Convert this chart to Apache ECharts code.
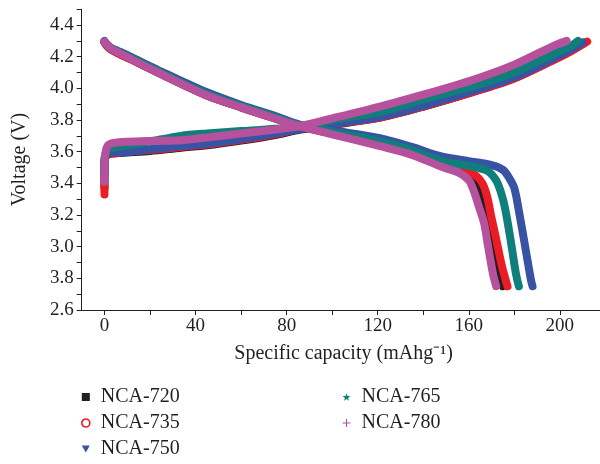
<!DOCTYPE html>
<html>
<head>
<meta charset="utf-8">
<script src="https://cdn.jsdelivr.net/npm/echarts@6/dist/echarts.min.js"></script>
<style>html,body{margin:0;padding:0;background:#fff}#c{width:600px;height:464px}</style>
</head>
<body>
<div id="c"></div>
<script>
// ---- data (specific capacity mAh/g, voltage V) ----
const sampleNames = ['NCA-720', 'NCA-735', 'NCA-750', 'NCA-765', 'NCA-780'];

const charge720 = [[0,3.37],[0,3.50],[0.5,3.57],[2,3.585],[5,3.59],[10,3.595],[20,3.605],[33.6,3.625],[45,3.64],[60,3.67],[75,3.705],[86,3.74],[100,3.77],[121,3.815],[140,3.885],[161,3.975],[180,4.065],[197.5,4.185],[205,4.24],[211,4.29]];
const charge735 = [[0,3.33],[0,3.50],[0.5,3.57],[2,3.585],[5,3.59],[10,3.60],[20,3.61],[33.6,3.63],[45,3.645],[60,3.675],[75,3.71],[86,3.745],[100,3.772],[121,3.815],[140,3.885],[161,3.972],[180,4.062],[197.5,4.18],[205,4.235],[212,4.295]];
const charge750 = [[0,3.50],[0,3.55],[0.5,3.575],[2,3.59],[5,3.595],[10,3.60],[20,3.615],[33.6,3.635],[45,3.65],[60,3.68],[75,3.715],[86,3.745],[100,3.775],[121,3.82],[140,3.89],[161,3.98],[180,4.07],[197.5,4.19],[205,4.245],[210,4.29]];
const charge765 = [[0,3.46],[0,3.54],[0.5,3.59],[2,3.62],[5,3.63],[10,3.64],[20,3.665],[33.6,3.70],[45,3.715],[60,3.73],[75,3.745],[86,3.76],[100,3.80],[121,3.85],[140,3.93],[161,4.01],[180,4.10],[197.5,4.22],[205,4.27],[208,4.30]];
const charge780 = [[0,3.41],[0,3.52],[0.5,3.60],[1.5,3.64],[4,3.655],[10,3.663],[20,3.668],[33.6,3.672],[45,3.69],[60,3.715],[75,3.74],[86,3.762],[100,3.81],[121,3.885],[140,3.96],[161,4.05],[180,4.15],[197.5,4.27],[203,4.30]];

const discharge720 = [[0,4.29],[1,4.27],[3,4.245],[7,4.215],[15,4.16],[25,4.09],[35,4.02],[45,3.955],[60,3.88],[75,3.81],[86,3.76],[100,3.715],[121,3.645],[135,3.59],[148,3.52],[156,3.48],[161,3.45],[164,3.40],[166,3.32],[168,3.18],[170,3.05],[172.5,2.88],[175,2.75]];
const discharge735 = [[0,4.29],[1,4.27],[3,4.245],[7,4.215],[15,4.16],[25,4.09],[35,4.02],[45,3.955],[60,3.88],[75,3.81],[86,3.76],[100,3.715],[121,3.645],[135,3.59],[148,3.52],[158,3.48],[163,3.45],[166,3.40],[168,3.32],[170,3.18],[172,3.05],[174.5,2.88],[177,2.75]];
const discharge750 = [[0,4.30],[1,4.28],[3,4.255],[7,4.23],[15,4.175],[25,4.105],[35,4.04],[45,3.975],[60,3.895],[75,3.825],[86,3.77],[100,3.735],[121,3.685],[135,3.63],[148,3.57],[160,3.54],[170,3.515],[175,3.485],[177.5,3.44],[180,3.37],[182.2,3.21],[185,2.98],[187.3,2.79],[188,2.75]];
const discharge765 = [[0,4.295],[1,4.275],[3,4.25],[7,4.225],[15,4.17],[25,4.10],[35,4.03],[45,3.965],[60,3.89],[75,3.82],[86,3.765],[100,3.725],[121,3.665],[135,3.61],[148,3.54],[160,3.51],[168,3.48],[171,3.44],[173,3.39],[175,3.30],[176.5,3.20],[178.5,3.03],[180.7,2.83],[182,2.75]];
const discharge780 = [[0,4.295],[1,4.275],[3,4.25],[7,4.22],[15,4.16],[25,4.09],[35,4.02],[45,3.955],[60,3.88],[75,3.81],[86,3.76],[100,3.71],[121,3.635],[135,3.58],[148,3.505],[156,3.465],[160,3.42],[162,3.36],[164.5,3.25],[166.7,3.15],[168.5,3.00],[170.6,2.83],[172,2.75]];

const xTickLabels = ['0', '40', '80', '120', '160', '200'];
const yTickLabels = ['2.6', '3.8', '3.0', '3.2', '3.4', '3.6', '3.8', '4.0', '4.2', '4.4'];

// ---- styles ----
const colors = ['#231f20', '#ec1c24', '#3953a4', '#0f7f7b', '#b5519d'];
const FONT = '"Liberation Serif", "Times New Roman", serif';
const X_MIN = -10, X_MAX = 220, Y_MIN = 2.6, Y_MAX = 4.5;
const G_LEFT = 81.7, G_TOP = 9.2, G_H = 300.8, PX_PER_UNIT = 2.277;
const G_W = (X_MAX - X_MIN) * PX_PER_UNIT;

const chargeSets = [charge720, charge735, charge750, charge765, charge780];
const dischargeSets = [discharge720, discharge735, discharge750, discharge765, discharge780];

const series = [];
sampleNames.forEach((name, i) => {
  [chargeSets[i], dischargeSets[i]].forEach(d => {
    series.push({
      name: name, type: 'line', data: d, xAxisIndex: 0, yAxisIndex: 0,
      showSymbol: false, symbol: 'none', smooth: 0.3,
      lineStyle: { color: colors[i], width: 8, cap: 'round', join: 'round' },
      itemStyle: { color: colors[i] },
      emphasis: { disabled: true }, silent: true, z: 2 + i
    });
  });
});

const icons = {
  'NCA-720': { icon: 'rect', itemStyle: { color: colors[0], borderWidth: 0 } },
  'NCA-735': { icon: 'circle', itemStyle: { color: '#ffffff', borderColor: colors[1], borderWidth: 1.6 } },
  'NCA-750': { icon: 'path://M0,0L10,0L5,9Z', itemStyle: { color: colors[2], borderWidth: 0 } },
  'NCA-765': { icon: 'path://M5,0L6.2,3.6L10,3.6L7,5.9L8.1,9.5L5,7.3L1.9,9.5L3,5.9L0,3.6L3.8,3.6Z', itemStyle: { color: colors[3], borderWidth: 0 } },
  'NCA-780': { icon: 'path://M4.3,0H5.7V4.3H10V5.7H5.7V10H4.3V5.7H0V4.3H4.3Z', itemStyle: { color: colors[4], borderWidth: 0 } }
};
function legendData(names) {
  return names.map(n => Object.assign({ name: n }, icons[n]));
}
const legendCommon = {
  orient: 'vertical', itemWidth: 8, itemHeight: 8, itemGap: 6, padding: 0,
  height: 80, selectedMode: false,
  textStyle: { fontFamily: FONT, fontSize: 20, color: '#231f20', lineHeight: 20, padding: [0, 0, 0, 6] },
  lineStyle: { width: 0 }
};

const option = {
  animation: false,
  backgroundColor: '#ffffff',
  grid: [
    { left: G_LEFT, top: G_TOP, width: G_W, height: G_H, outerBoundsMode: 'none', containLabel: false },
    { left: G_LEFT - X_MIN * PX_PER_UNIT, top: G_TOP, width: X_MAX * PX_PER_UNIT, height: G_H, outerBoundsMode: 'none', containLabel: false }
  ],
  legend: [
    Object.assign({ left: 81, top: 387, data: legendData(sampleNames.slice(0, 3)) }, legendCommon),
    Object.assign({ left: 342.5, top: 387, data: legendData(sampleNames.slice(3)) }, legendCommon)
  ],
  xAxis: [
    {
      gridIndex: 0, type: 'value', min: X_MIN, max: X_MAX, interval: 10,
      name: 'Specific capacity (mAhg\u207B\u00B9)', nameLocation: 'middle', nameGap: 34,
      nameTextStyle: { fontFamily: FONT, fontSize: 20, color: '#231f20' },
      axisLine: { show: true, onZero: false, lineStyle: { color: '#231f20', width: 1 } },
      axisTick: { show: false }, axisLabel: { show: false }, splitLine: { show: false }
    },
    {
      gridIndex: 1, type: 'value', min: 0, max: X_MAX, interval: 20,
      axisLine: { show: false, onZero: false },
      axisTick: { show: true, length: 5, lineStyle: { color: '#231f20', width: 1 } },
      axisLabel: {
        fontFamily: FONT, fontSize: 19, color: '#231f20', margin: 7,
        formatter: v => {
          const k = Math.round(v / 40);
          return (Math.abs(v - k * 40) < 1e-6 && k >= 0 && k < xTickLabels.length) ? xTickLabels[k] : '';
        }
      },
      splitLine: { show: false }
    }
  ],
  yAxis: [
    {
      gridIndex: 0, type: 'value', min: Y_MIN, max: Y_MAX, interval: 0.1,
      name: 'Voltage (V)', nameLocation: 'middle', nameGap: 52,
      nameTextStyle: { fontFamily: FONT, fontSize: 20, color: '#231f20' },
      axisLine: { show: true, onZero: false, lineStyle: { color: '#231f20', width: 1 } },
      axisTick: { show: true, length: 5, lineStyle: { color: '#231f20', width: 1 } },
      axisLabel: {
        fontFamily: FONT, fontSize: 19, color: '#231f20', margin: 8,
        formatter: v => {
          const t = Math.round((v - Y_MIN) * 10);
          if (t % 2 !== 0) return '';
          const k = t / 2;
          return (k >= 0 && k < yTickLabels.length) ? yTickLabels[k] : '';
        }
      },
      splitLine: { show: false }
    },
    { gridIndex: 1, type: 'value', min: 0, max: 1, show: false }
  ],
  series: series
};

const chart = echarts.init(document.getElementById('c'), null, { renderer: 'canvas' });
chart.setOption(option);
</script>
</body>
</html>
